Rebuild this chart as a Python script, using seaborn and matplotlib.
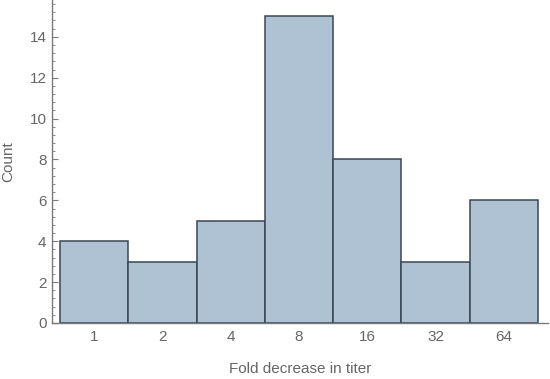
import matplotlib
matplotlib.use("Agg")
import matplotlib.pyplot as plt
import seaborn as sns
import pandas as pd
from matplotlib.ticker import MultipleLocator

categories = ["1", "2", "4", "8", "16", "32", "64"]
counts = [4, 3, 5, 15, 8, 3, 6]

df = pd.DataFrame({"fold": categories, "count": counts})

sns.set_style("ticks")
plt.rcParams['font.family'] = ['Liberation Sans', 'DejaVu Sans']

fig = plt.figure(figsize=(5.5, 3.79), dpi=100)
ax = fig.add_axes([0.0945, 0.1478, 0.9019, 0.8522])

sns.barplot(data=df, x="fold", y="count", order=categories, ax=ax,
            color="#aec2d3", saturation=1, width=1.0,
            edgecolor="#3a4654", linewidth=1.1)

ax.set_xlim(-0.617, 6.646)
ax.set_ylim(0, 15.8)
ax.yaxis.set_major_locator(MultipleLocator(2))
ax.yaxis.set_minor_locator(MultipleLocator(0.4))

grey = "#7a7a7a"
txt = "#666666"
for s in ["top", "right"]:
    ax.spines[s].set_visible(False)
for s in ["left", "bottom"]:
    ax.spines[s].set_color(grey)
    ax.spines[s].set_linewidth(1.0)

ax.tick_params(axis="y", which="major", direction="in", length=4, color=grey,
               labelcolor=txt, labelsize=11, pad=4)
ax.tick_params(axis="y", which="minor", direction="in", length=2.2, color=grey)
ax.tick_params(axis="x", which="major", direction="in", length=3, color=grey,
               labelcolor=txt, labelsize=11, pad=5)

ax.set_xlabel("Fold decrease in titer", color=txt, fontsize=11, labelpad=13)
ax.set_ylabel("Count", color=txt, fontsize=11, labelpad=10)

fig.savefig("out.png", dpi=100)
